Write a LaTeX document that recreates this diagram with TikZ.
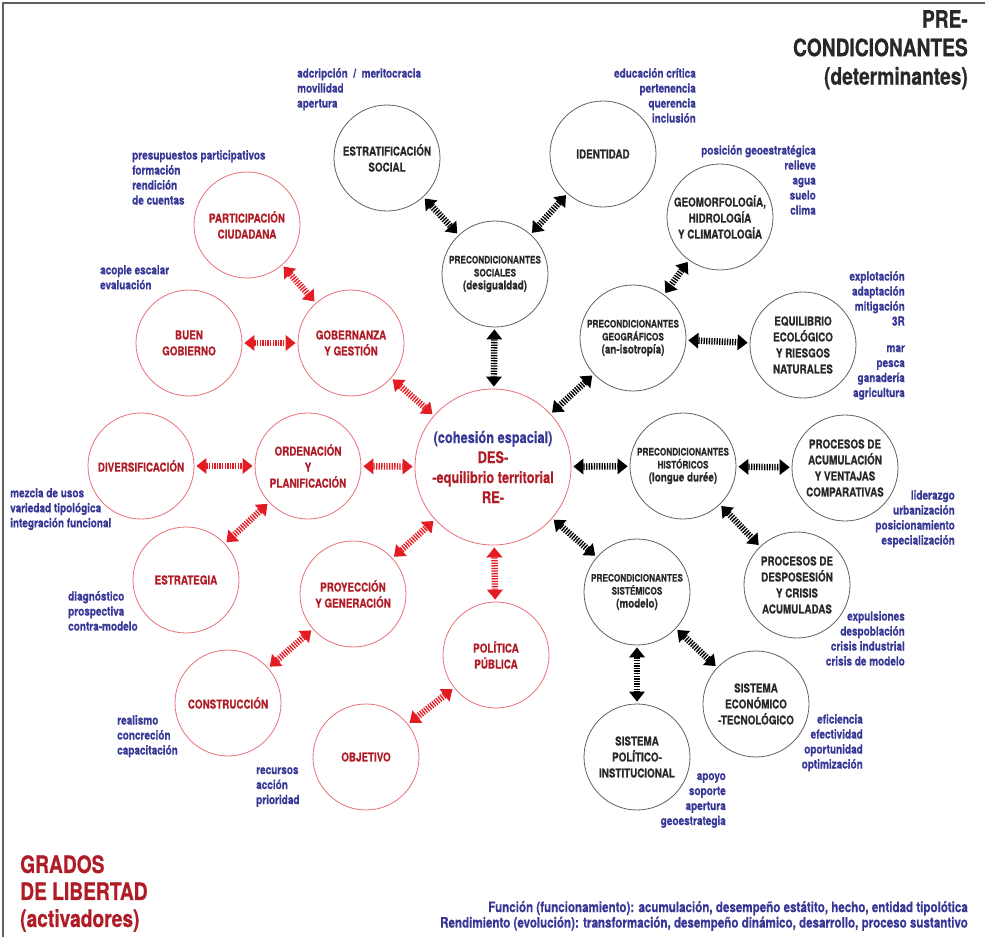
\documentclass[tikz,border=0pt]{standalone}
\usepackage{fontspec}
\setmainfont{TeX Gyre Heros}[FakeStretch=0.8,BoldFeatures={FakeBold=0.5}]
\usetikzlibrary{arrows.meta}
\definecolor{blueann}{RGB}{55,55,150}
\definecolor{redtxt}{RGB}{175,28,38}
\definecolor{redline}{RGB}{232,110,118}
\definecolor{redarr}{RGB}{226,28,34}
\definecolor{greyline}{RGB}{95,95,95}
\definecolor{titlegrey}{RGB}{40,40,40}
\newcommand{\psz}{\fontsize{10.3}{13}\selectfont}
\newcommand{\pbz}{\fontsize{12.3}{15}\selectfont}

\begin{document}
\begin{tikzpicture}[%
  x=1pt,y=-1pt,
  pre/.style={circle,draw=greyline,line width=0.8pt,minimum size=106pt,
    inner sep=0pt,align=center,text=titlegrey,font=\bfseries\fontsize{12.3}{16}\selectfont},
  act/.style={circle,draw=redline,line width=0.8pt,minimum size=106pt,
    inner sep=0pt,align=center,text=redtxt,font=\bfseries\fontsize{12.3}{16}\selectfont},
  ladder/.style={line width=6.5pt,dash pattern=on 1.3pt off 1.3pt,
    {Triangle[length=10pt,width=16pt,line width=0pt]}-{Triangle[length=10pt,width=16pt,line width=0pt]},
    shorten <=2pt,shorten >=2pt},
  blackarr/.style={ladder,draw=black,fill=black},
  redarrow/.style={ladder,draw=redarr,fill=redarr},
  note/.style={text=blueann,font=\bfseries\fontsize{12.5}{15}\selectfont,
    align=left,anchor=north west,inner sep=0pt},
  noter/.style={note,align=right,anchor=north east}]
  \useasboundingbox (0,0) rectangle (985,937);
  \draw[greyline,line width=1.2pt] (3,937) -- (3,3) -- (985,3);

  % Titles
  \node[anchor=north east,align=right,inner sep=0pt,text=titlegrey,
    font=\bfseries\fontsize{24}{28.5}\selectfont] (pretitle) at (968,10)
    {PRE-\\CONDICIONANTES\\(determinantes)};
  \node[anchor=north west,align=left,inner sep=0pt,text=redtxt,
    font=\bfseries\fontsize{24}{27}\selectfont] (gradtitle) at (20,855)
    {GRADOS\\DE LIBERTAD\\(activadores)};
  \node[noter,font=\bfseries\fontsize{14.5}{15.5}\selectfont] (bottomnote) at (968,901)
    {Función (funcionamiento): acumulación, desempeño estátito, hecho, entidad tipolótica\\
     Rendimiento (evolución): transformación, desempeño dinámico, desarrollo, proceso sustantivo};

  % Central node
  \node[circle,draw=redline,line width=0.8pt,minimum size=156pt,inner sep=0pt,
    align=center,text=redtxt,font=\bfseries\fontsize{16}{20}\selectfont] (cohesion) at (493,467)
    {\textcolor{blueann}{(cohesión espacial)}\\DES-\\-equilibrio territorial\\RE-};

  % Pre-condicionantes
  \node[pre] (estratificacion) at (387,158) {ESTRATIFICACIÓN\\SOCIAL};
  \node[pre] (identidad) at (603,154) {IDENTIDAD};
  \node[pre,font=\bfseries\psz] (psociales) at (495,274)
    {PRECONDICIONANTES\\SOCIALES\\\pbz(desigualdad)};
  \node[pre] (geomorfologia) at (720,217) {GEOMORFOLOGÍA,\\HIDROLOGÍA\\Y CLIMATOLOGÍA};
  \node[pre,font=\bfseries\psz] (pgeograficos) at (633,338)
    {PRECONDICIONANTES\\GEOGRÁFICOS\\\pbz(an-isotropía)};
  \node[pre] (equilibrio) at (803,345) {EQUILIBRIO\\ECOLÓGICO\\Y RIESGOS\\NATURALES};
  \node[pre,font=\bfseries\psz] (phistoricos) at (683,466)
    {PRECONDICIONANTES\\HISTÓRICOS\\\pbz(longue durée)};
  \node[pre] (acumulacion) at (845,468) {PROCESOS DE\\ACUMULACIÓN\\Y VENTAJAS\\COMPARATIVAS};
  \node[pre] (desposesion) at (797,585) {PROCESOS DE\\DESPOSESIÓN\\Y CRISIS\\ACUMULADAS};
  \node[pre,font=\bfseries\psz] (psistemicos) at (637,592)
    {PRECONDICIONANTES\\SISTÉMICOS\\\pbz(modelo)};
  \node[pre] (economico) at (756,704) {SISTEMA\\ECONÓMICO\\-TECNOLÓGICO};
  \node[pre] (politico) at (637,757) {SISTEMA\\POLÍTICO-\\INSTITUCIONAL};

  % Grados de libertad
  \node[act] (participacion) at (247,225) {PARTICIPACIÓN\\CIUDADANA};
  \node[act] (buengob) at (189,343) {BUEN\\GOBIERNO};
  \node[act] (gobernanza) at (351,343) {GOBERNANZA\\Y GESTIÓN};
  \node[act] (diversif) at (141,466) {DIVERSIFICACIÓN};
  \node[act] (ordenacion) at (308,466) {ORDENACIÓN\\Y\\PLANIFICACIÓN};
  \node[act] (estrategia) at (186,580) {ESTRATEGIA};
  \node[act] (proyeccion) at (353,594) {PROYECCIÓN\\Y GENERACIÓN};
  \node[act] (construccion) at (228,703) {CONSTRUCCIÓN};
  \node[act] (objetivo) at (366,757) {OBJETIVO};
  \node[act] (politica) at (496,655) {POLÍTICA\\PÚBLICA};

  % Arrows
  \draw[blackarr] (estratificacion) -- (psociales);
  \draw[blackarr] (identidad) -- (psociales);
  \draw[blackarr] (psociales) -- (cohesion);
  \draw[blackarr] (geomorfologia) -- (pgeograficos);
  \draw[blackarr] (pgeograficos) -- (equilibrio);
  \draw[blackarr] (pgeograficos) -- (cohesion);
  \draw[blackarr] (cohesion) -- (phistoricos);
  \draw[blackarr] (phistoricos) -- (acumulacion);
  \draw[blackarr] (phistoricos) -- (desposesion);
  \draw[blackarr] (cohesion) -- (psistemicos);
  \draw[blackarr] (psistemicos) -- (economico);
  \draw[blackarr] (psistemicos) -- (politico);
  \draw[redarrow] (participacion) -- (gobernanza);
  \draw[redarrow] (buengob) -- (gobernanza);
  \draw[redarrow] (gobernanza) -- (cohesion);
  \draw[redarrow] (diversif) -- (ordenacion);
  \draw[redarrow] (ordenacion) -- (cohesion);
  \draw[redarrow] (ordenacion) -- (estrategia);
  \draw[redarrow] (proyeccion) -- (cohesion);
  \draw[redarrow] (proyeccion) -- (construccion);
  \draw[redarrow] (cohesion) -- (politica);
  \draw[redarrow] (politica) -- (objetivo);

  % Notes
  \node[note] (n1) at (297,68) {adcripción \ / \ meritocracia\\movilidad\\apertura};
  \node[noter] (n2) at (696,68) {educación crítica\\pertenencia\\querencia\\inclusión};
  \node[noter] (n3) at (816,145) {posición geoestratégica\\relieve\\agua\\suelo\\clima};
  \node[noter] (n4) at (905,271) {explotación\\adaptación\\mitigación\\3R};
  \node[noter] (n5) at (905,345) {mar\\pesca\\ganadería\\agricultura};
  \node[noter] (n6) at (955,490) {liderazgo\\urbanización\\posicionamiento\\especialización};
  \node[noter] (n7) at (905,611) {expulsiones\\despoblación\\crisis industrial\\crisis de modelo};
  \node[noter] (n8) at (863,714) {eficiencia\\efectividad\\oportunidad\\optimización};
  \node[noter] (n9) at (726,773) {apoyo\\soporte\\apertura\\geoestrategia};
  \node[note] (n10) at (132,150) {presupuestos participativos\\formación\\rendición\\de cuentas};
  \node[note] (n11) at (100,265) {acople escalar\\evaluación};
  \node[note] (n12) at (10,488) {mezcla de usos\\variedad tipológica\\integración funcional};
  \node[note] (n13) at (68,591) {diagnóstico\\prospectiva\\contra-modelo};
  \node[note] (n14) at (117,715) {realismo\\concreción\\capacitación};
  \node[note] (n15) at (256,767) {recursos\\acción\\prioridad};
\end{tikzpicture}
\end{document}
